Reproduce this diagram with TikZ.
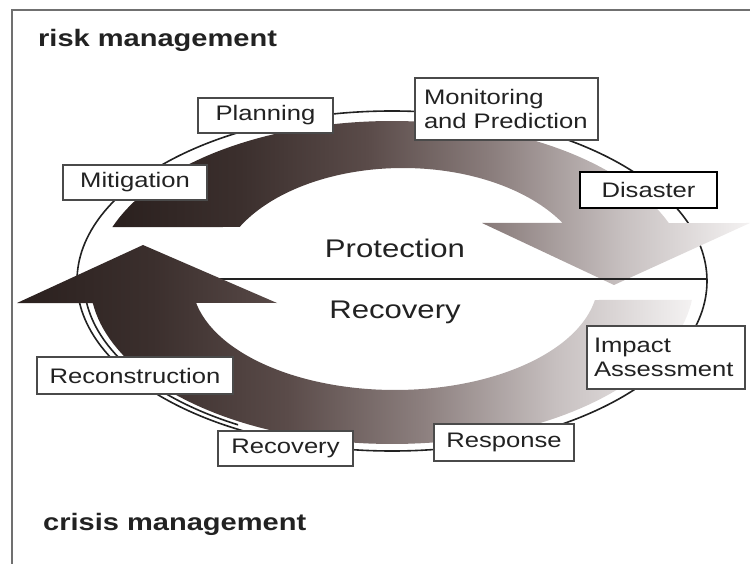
\documentclass[tikz,border=0pt]{standalone}
\usepackage{fontspec}
\setmainfont{Liberation Sans}[FakeStretch=1.22]
\definecolor{c0}{HTML}{2A201E}
\definecolor{c1}{HTML}{3B2F2D}
\definecolor{c2}{HTML}{5A4B49}
\definecolor{c3}{HTML}{8C7F7E}
\definecolor{c4}{HTML}{C7C0C0}
\definecolor{c5}{HTML}{F4F2F2}
\definecolor{txt}{HTML}{222222}
\definecolor{boxc}{HTML}{4A4A4A}
\definecolor{ringc}{HTML}{222222}
\definecolor{framec}{HTML}{707070}
\pgfdeclarehorizontalshading{cycshade}{100bp}{color(0bp)=(c0); color(25bp)=(c0); color(35bp)=(c1); color(45bp)=(c2); color(55bp)=(c3); color(65bp)=(c4); color(75bp)=(c5); color(100bp)=(c5)}
\begin{document}
\begin{tikzpicture}[x=1pt,y=-1pt,
  box/.style={draw=boxc, line width=1.2pt, fill=white, text=txt, font=\fontsize{21}{24}\selectfont, inner sep=0pt, anchor=center},
  ring/.style={draw=ringc, line width=1.6pt},
  bigtxt/.style={text=txt, font=\fontsize{25.5}{30}\selectfont, anchor=base, inner sep=0pt},
  mgmt/.style={text=txt, font=\bfseries\fontsize{23.8}{28}\selectfont, anchor=base west, inner sep=0pt}]
\useasboundingbox (0,0) rectangle (750,564);
% frame
\draw[framec, line width=1.4pt] (12,564) -- (12,10) -- (750,10);
% main ellipse
\draw[ring] (392,281) ellipse [x radius=315, y radius=170];
% inner line lower left
\begin{scope}
  \clip (60,300) rectangle (238,440);
  \draw[ring] (392,281) ellipse [x radius=308, y radius=166];
\end{scope}
% upper arrow
\shade[shading=cycshade] plot[domain=199.72:338.75, samples=90, variable=\t] ({392+297*cos(\t)},{281+160*sin(\t)})
  -- (750,223) -- (614,285) -- (482,223)
  -- plot[domain=329.1:208.55, samples=90, variable=\t] ({403+186*cos(\t)},{281+113*sin(\t)}) -- cycle;
% dividing line
\coordinate (hl) at (77,279);
\coordinate (hr) at (707,279);
\draw[ring, line width=1.3pt] (hl) -- (hr);
% lower arrow
\shade[shading=cycshade] (17,303) -- (143,245) -- (277,303)
  -- plot[domain=168.36:10.04, samples=90, variable=\t] ({395+203*cos(\t)},{281+109*sin(\t)})
  -- plot[domain=6.69:172.24, samples=90, variable=\t] ({392+302*cos(\t)},{281+163*sin(\t)}) -- cycle;
% center texts
\node[bigtxt] (prot) at (395,258) {Protection};
\node[bigtxt] (reco) at (395,318) {Recovery};
% boxes
\node[box, minimum width=135pt, minimum height=35pt] (planning) at (265.5,115.5) {Planning};
\node[box, minimum width=144pt, minimum height=35pt] (mitigation) at (135,182.5) {Mitigation};
\node[box, text width=165pt, inner xsep=9pt, align=left, minimum height=62pt] (monitor) at (506.5,109) {Monitoring\\and Prediction};
\node[box, draw=black, line width=2.4pt, minimum width=137pt, minimum height=36pt] (disaster) at (648.5,190) {Disaster};
\node[box, text width=144pt, inner xsep=7pt, align=left, minimum height=63pt] (impact) at (666,357.5) {Impact\\Assessment};
\node[box, minimum width=140pt, minimum height=37pt] (response) at (504,442.5) {Response};
\node[box, minimum width=135pt, minimum height=35pt] (recbox) at (285.5,448.5) {Recovery};
\node[box, minimum width=196pt, minimum height=37pt] (recon) at (135,375.5) {Reconstruction};
% management labels
\node[mgmt] (risk) at (38,47) {risk management};
\node[mgmt] (crisis) at (43,530) {crisis management};
\end{tikzpicture}
\end{document}
